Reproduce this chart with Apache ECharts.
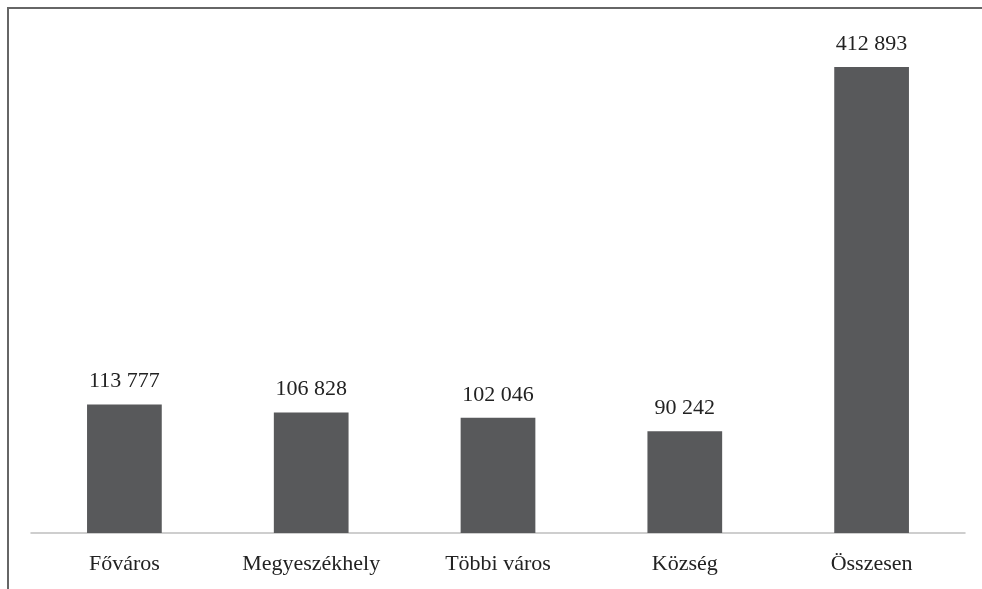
<!DOCTYPE html>
<html>
<head>
<meta charset="utf-8">
<script src="https://cdn.jsdelivr.net/npm/echarts@6/dist/echarts.min.js"></script>
<style>html,body{margin:0;padding:0;background:#fff}#c{width:982px;height:589px}</style>
</head>
<body>
<div id="c"></div>
<script>
const categories = ['Főváros', 'Megyeszékhely', 'Többi város', 'Község', 'Összesen'];
const values = [113777, 106828, 102046, 90242, 412893];

function fmt(v) {
  return String(v).replace(/\B(?=(\d{3})+(?!\d))/g, ' ');
}

const chart = echarts.init(document.getElementById('c'));
chart.setOption({
  animation: false,
  backgroundColor: '#ffffff',
  grid: { left: 31, right: 17, top: 25, bottom: 56 },
  xAxis: {
    type: 'category',
    data: categories,
    axisLine: { lineStyle: { color: '#bfbfbf', width: 1.5 } },
    axisTick: { show: false },
    axisLabel: { color: '#222', fontFamily: 'Liberation Serif', fontSize: 22, margin: 20 }
  },
  yAxis: {
    type: 'value',
    min: 0,
    max: 450000,
    show: false,
    splitLine: { show: false }
  },
  series: [{
    type: 'bar',
    data: values,
    barWidth: '40%',
    itemStyle: { color: '#58595b' },
    label: {
      show: true,
      position: 'top',
      distance: 12,
      color: '#222',
      fontFamily: 'Liberation Serif',
      fontSize: 22,
      formatter: p => fmt(p.value)
    }
  }],
  graphic: [
    { type: 'line', shape: { x1: 7, y1: 8, x2: 982, y2: 8 }, style: { stroke: '#666', lineWidth: 2 } },
    { type: 'line', shape: { x1: 8, y1: 7, x2: 8, y2: 589 }, style: { stroke: '#666', lineWidth: 2 } }
  ]
});
</script>
</body>
</html>
